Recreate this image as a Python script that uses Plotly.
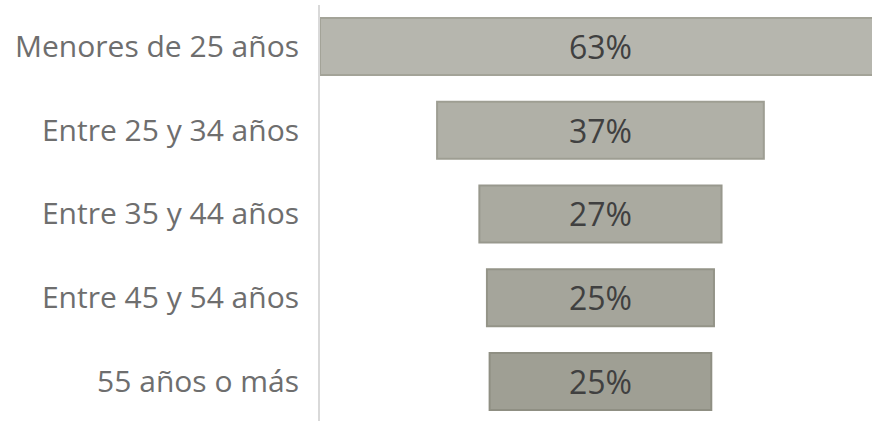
import plotly.graph_objects as go

categories = ["Menores de 25 años", "Entre 25 y 34 años", "Entre 35 y 44 años",
              "Entre 45 y 54 años", "55 años o más"]
values = [63, 36.7, 27.2, 25.5, 24.9]
labels = ["63%", "37%", "27%", "25%", "25%"]
fill_colors = ["#b6b6ae", "#b0b0a7", "#aaaaa0", "#a5a59b", "#9f9f94"]
line_colors = ["#a3a398", "#9e9e93", "#98988d", "#949488", "#8f8f83"]

fig = go.Figure(go.Funnel(
    y=categories,
    x=values,
    text=labels,
    textinfo="text",
    textposition="inside",
    insidetextanchor="middle",
    textfont=dict(family="Open Sans", size=32, color="#404040"),
    marker=dict(color=fill_colors, line=dict(color=line_colors, width=2)),
    connector=dict(visible=False),
    hoverinfo="skip",
))

fig.update_layout(
    width=872, height=421,
    margin=dict(l=320, r=0, t=5, b=0),
    paper_bgcolor="white", plot_bgcolor="white",
    funnelgap=0.32,
    showlegend=False,
    font=dict(family="Open Sans"),
    xaxis=dict(range=[-31.5, 30.5], visible=False, showgrid=False, zeroline=False),
    yaxis=dict(range=[4.472, -0.4955], showline=True, linecolor="#d9d9d9", linewidth=2,
               showgrid=False, zeroline=False, ticks="",
               ticklabelstandoff=13,
               tickfont=dict(family="Open Sans", size=30, color="#6e6e6e")),
)

fig.write_html("out.html")
